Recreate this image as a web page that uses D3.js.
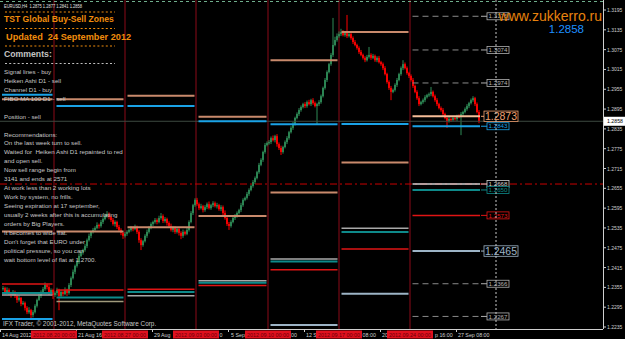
<!DOCTYPE html>
<html>
<head>
<meta charset="utf-8">
<script src="https://cdn.jsdelivr.net/npm/d3@7"></script>
<style>
  html, body { margin: 0; padding: 0; background: #000; overflow: hidden; }
  svg { display: block; }
  text { font-family: "Liberation Sans", Arial, sans-serif; white-space: pre; }
</style>
</head>
<body>
<div id="chart"></div>
<script>
// ---------- data (prices in pips above 1.2000) ----------
const symbolInfo = 'EURUSD,H4  1.2875 1.2877 1.2841 1.2858';
const lastPrice = 858;
const firstOpen = 350;

// H4 closes, one per bar
const closes = [
  // week of 13 Aug
  353,341,347,338,332,341,329,317,323,305,308,293,280,286,271,280,299,317,329,341,350,362,356,341,347,332,
  // 20 Aug
  338,347,329,341,335,347,338,362,383,402,420,432,450,462,468,480,498,511,523,529,535,544,541,553,562,571,577,568,559,547,553,538,529,520,511,
  // 27 Aug
  517,523,529,535,532,538,523,498,483,495,511,523,535,547,553,559,553,565,571,556,562,550,541,529,535,523,532,520,511,523,517,529,553,580,604,620,
  // 3 Sep
  607,595,601,589,598,607,595,604,610,601,604,592,598,580,565,547,541,553,565,571,580,589,604,620,626,638,650,662,674,686,704,726,741,765,786,792,
  // 10 Sep
  795,807,801,813,789,777,765,780,795,807,825,838,850,868,880,892,901,910,904,916,910,922,913,904,910,916,934,959,983,1007,1031,1059,1089,1104,1116,
  // 17 Sep
  1122,1128,1119,1125,1116,1122,1110,1098,1089,1080,1068,1059,1050,1043,1053,1059,1050,1056,1043,1050,1037,1031,1019,1001,977,959,947,953,968,983,1001,1019,1031,1019,1004,995,
  // 24 Sep
  983,965,947,928,910,916,922,931,937,940,947,934,922,910,898,892,880,868,859,865,862,868,865,874,871,880,886,895,904,913,922,928,910,886,858
];
const wickUp = [
  6,4,8,5,3,6,4,5,8,3,6,4,5,9,4,6,5,4,7,5,6,8,4,6,5,4,
  5,7,4,6,5,8,4,6,5,7,4,6,8,5,4,6,5,7,4,6,5,8,4,6,5,7,9,5,4,6,5,4,6,5,4,
  6,5,4,6,5,7,4,5,6,4,5,7,6,5,4,6,5,7,9,5,6,4,5,7,6,5,4,6,5,7,4,6,5,6,4,5,
  6,5,7,4,6,5,8,4,6,5,7,4,6,5,8,4,6,5,4,6,5,4,7,5,4,6,5,4,6,5,4,6,5,4,6,5,
  6,5,8,4,6,5,7,4,5,6,4,5,6,4,5,6,5,4,6,5,7,4,6,5,4,6,5,4,6,5,4,6,82,10,8,
  8,10,6,5,55,6,4,5,6,4,5,6,4,5,6,24,5,6,4,5,6,4,5,6,4,5,6,4,5,6,4,5,12,5,5,4,
  5,6,4,5,6,4,5,6,4,5,15,4,5,6,4,5,6,4,5,6,4,5,6,4,5,6,4,5,6,4,5,6,4,5,6
];
const wickDn = [
  5,7,4,6,8,3,6,9,5,7,4,8,6,5,10,7,4,5,3,6,4,5,7,9,6,12,
  6,8,43,5,7,4,9,5,6,4,7,5,6,4,8,5,6,4,7,5,6,4,8,5,6,4,5,7,6,5,8,6,5,7,9,
  5,6,4,5,7,4,6,8,15,5,4,6,5,4,6,5,7,4,5,6,5,8,6,5,7,6,5,8,10,6,5,4,5,4,6,5,
  5,6,4,7,5,6,4,5,6,4,7,5,6,8,5,6,12,5,4,6,5,4,6,5,4,5,6,4,5,6,4,5,4,6,5,4,
  5,6,4,7,8,6,9,5,4,6,5,4,6,5,4,6,5,4,6,5,4,6,5,4,57,6,5,4,5,6,4,5,6,4,5,
  5,6,4,5,6,4,5,6,4,5,6,4,5,6,4,5,6,4,5,6,4,5,6,4,5,6,25,4,5,6,4,5,6,4,5,6,
  5,6,4,5,6,4,5,6,4,5,6,4,5,6,4,5,6,4,21,5,6,4,5,6,4,55,6,4,5,6,4,5,6,4,6
];

// weekly separators (bar index) and their time labels
const weekEdges = [-1.5, 25.5, 61, 96.5, 132.5, 168, 203.5, 239];
const separatorLabels = ['2012.08.20 00:00','2012.08.27 00:00','2012.09.03 00:00','2012.09.10 00:00','2012.09.17 00:00','2012.09.24 00:00'];

// buy/sell zone levels per week: [pips above 1.2000, kind]
const zonesByWeek = [
  [[938,'sup'],[925,'res'],[524,'mid'],[365,'red'],[338,'teal'],[332,'gray'],[259,'sup']],
  [[925,'res'],[904,'sup'],[524,'mid'],[347,'red'],[324,'teal'],[312,'khaki']],
  [[935,'res'],[904,'sup'],[537,'mid'],[349,'red'],[341,'teal'],[330,'gray']],
  [[872,'res'],[858,'sup'],[571,'mid'],[375,'gray'],[369,'teal'],[361,'red']],
  [[1043,'res'],[849,'sup'],[642,'mid'],[441,'gray'],[433,'teal'],[408,'red'],[241,'steel']],
  [[1128,'res'],[850,'sup'],[733,'mid'],[534,'gray'],[523,'teal'],[471,'red'],[336,'steel']],
  [[1176,'dash'],[1074,'dash'],[974,'dash'],[873,'res'],[843,'sup'],[668,'white'],[650,'teal'],[573,'red'],[465,'steel'],[366,'dash'],[267,'dash']]
];
const pivotLevel = 668;

const priceTicks = [1.3195,1.3135,1.3075,1.3015,1.2955,1.2895,1.2835,1.2775,1.2715,1.2655,1.2595,1.2535,1.2475,1.2415,1.2355,1.2295,1.2235];
// time axis: ticks, and the label pieces left visible between the separator boxes
const timeTickBars = [-0.5, 37.5, 75.5, 113.5, 151.5, 189.5, 227.5];
const timeLabelBars = [-0.5, 37.5, 75.5, 108.3, 114, 144, 151.5, 179.8, 189.5, 216, 227.5];
const timeLabels = ['14 Aug 2012','21 Aug 16','29 Aug','0','5 Sep','00','12 S','08:00','20','p 16:00','27 Sep 08:00'];

const titleText = 'TST Global Buy-Sell Zones';
const updatedText = 'Updated  24 September 2012';
const commentsHead = 'Comments:';
const comments = [
  'Signal lines - buy','Heiken Ashi D1 - sell','Channel D1 - buy','FIBO MA 100 D1 - sell','',
  'Position - sell','',
  'Recommendations:','On the last week turn to sell.','Waited for  Heiken Ashi D1 repainted to red',
  'and open sell.','Now sell range begin from','3141 and ends at 2571','At work less than 2 working lots',
  'Work by system, no frills.','Seeing expiration at 17 september,','usually 2 weeks after this is accumulating',
  'orders by Big Players.','It becomes to wide flat.','Don\'t forget that EURO under',
  'political pressure, so you can','wait bottom level of flat at 1.2700.'
];
const siteText = 'www.zukkerro.ru';
const copyright = 'IFX Trader, \u00a9 2001-2012, MetaQuotes Software Corp.';

// ---------- drawing ----------
const W = 625, H = 339;
const plotRight = 603, plotBottom = 329;
const toPrice = v => 1.2 + v / 10000;

const x = d3.scaleLinear().domain([0, closes.length - 1]).range([3, 479]);
const y = d3.scaleLinear().domain([1.2235, 1.3195]).range([327, 10]);

const svg = d3.select('#chart').append('svg').attr('width', W).attr('height', H);
svg.append('rect').attr('width', W).attr('height', H).attr('fill', '#000');

// week separators
svg.append('g').selectAll('line').data(weekEdges.slice(1, -1)).join('line')
  .attr('x1', d => x(d)).attr('x2', d => x(d)).attr('y1', 0).attr('y2', plotBottom)
  .attr('stroke', '#8c0a18').attr('stroke-width', 1);

// candles
const candles = closes.map((c, i) => {
  const o = i === 0 ? firstOpen : closes[i - 1];
  return { i, o, c, h: Math.max(o, c) + wickUp[i], l: Math.min(o, c) - wickDn[i] };
});
const cg = svg.append('g');
const col = d => d.c >= d.o ? '#2e8b57' : '#ff0000';
cg.selectAll('line').data(candles).join('line')
  .attr('x1', d => x(d.i)).attr('x2', d => x(d.i))
  .attr('y1', d => y(toPrice(d.h))).attr('y2', d => y(toPrice(d.l)))
  .attr('stroke', col).attr('stroke-width', 1);
cg.selectAll('rect').data(candles).join('rect')
  .attr('x', d => x(d.i) - 0.9).attr('width', 1.8)
  .attr('y', d => y(toPrice(Math.max(d.o, d.c))))
  .attr('height', d => Math.max(1.2, Math.abs(y(toPrice(d.o)) - y(toPrice(d.c)))))
  .attr('fill', col);

// zone segments
const zoneStyle = {
  res:   { c: '#c98a6c', w: 2 },
  sup:   { c: '#1aa2e6', w: 2 },
  mid:   { c: '#c98a6c', w: 2 },
  red:   { c: '#e01414', w: 1.5 },
  teal:  { c: '#0e8a8a', w: 2 },
  gray:  { c: '#a8a8a8', w: 1.5 },
  khaki: { c: '#a09a7c', w: 1.5 },
  white: { c: '#d0d0d0', w: 1.5 },
  steel: { c: '#9db4c6', w: 2 },
  dash:  { c: '#8a8a8a', w: 1, dash: '6,4' }
};
const lastWeek = zonesByWeek.length - 1;
const segs = [];
zonesByWeek.forEach((list, k) => {
  const x1 = k === 0 ? x(weekEdges[0]) + 2 : x(weekEdges[k]) + 2.5;
  const x2 = k === lastWeek ? x(weekEdges[k + 1]) - 1 : x(weekEdges[k + 1]) - 1.5;
  list.forEach(([v, kind]) => segs.push({ v, kind, x1, x2, k }));
});

// pivot dash-dot line and bid line
svg.append('line').attr('x1', 0).attr('x2', plotRight)
  .attr('y1', y(toPrice(pivotLevel))).attr('y2', y(toPrice(pivotLevel)))
  .attr('stroke', '#c80000').attr('stroke-width', 1).attr('stroke-dasharray', '7,3,2,3');
svg.append('line').attr('x1', 0).attr('x2', plotRight)
  .attr('y1', y(toPrice(lastPrice))).attr('y2', y(toPrice(lastPrice)))
  .attr('stroke', '#3c4a40').attr('stroke-width', 1);

svg.append('g').selectAll('line').data(segs).join('line')
  .attr('x1', d => d.x1).attr('x2', d => d.x2)
  .attr('y1', d => y(toPrice(d.v))).attr('y2', d => y(toPrice(d.v)))
  .attr('stroke', d => (d.k === lastWeek && d.kind === 'res') ? '#f5bc98' : zoneStyle[d.kind].c)
  .attr('stroke-width', d => zoneStyle[d.kind].w)
  .attr('stroke-dasharray', d => zoneStyle[d.kind].dash || null);

// top dotted border line
svg.append('line').attr('x1', 0).attr('x2', plotRight).attr('y1', 1.5).attr('y2', 1.5)
  .attr('stroke', '#6fae8c').attr('stroke-width', 1).attr('stroke-dasharray', '3,3');

// level labels for the current week
const lg = svg.append('g');
segs.filter(d => d.k === lastWeek).forEach(d => {
  const big = d.kind === 'res' || d.kind === 'steel';
  const st = zoneStyle[d.kind];
  const c = d.kind === 'res' ? '#f0a070' : (d.kind === 'dash' ? '#b0b0b0' : st.c);
  const yy = y(toPrice(d.v));
  const bx = big ? 484 : 487, bw = big ? 34 : 22, bh = big ? 10.5 : 7;
  lg.append('line').attr('x1', 481).attr('x2', bx).attr('y1', yy).attr('y2', yy)
    .attr('stroke', c).attr('stroke-width', 1);
  lg.append('rect').attr('x', bx).attr('y', yy - bh / 2).attr('width', bw).attr('height', bh)
    .attr('fill', '#000').attr('stroke', c).attr('stroke-width', 0.8);
  lg.append('text').attr('x', bx + bw / 2).attr('y', yy + (big ? 3.6 : 2.2))
    .attr('text-anchor', 'middle').attr('font-size', big ? 10.5 : 6.2)
    .attr('fill', c).text(toPrice(d.v).toFixed(4));
});

// white dotted time line
svg.append('line').attr('x1', 496).attr('x2', 496).attr('y1', 0).attr('y2', plotBottom)
  .attr('stroke', '#c8c8c8').attr('stroke-width', 1).attr('stroke-dasharray', '2,2');

// frame
svg.append('line').attr('x1', plotRight + 0.5).attr('x2', plotRight + 0.5).attr('y1', 0).attr('y2', plotBottom)
  .attr('stroke', '#cfcfcf');
svg.append('line').attr('x1', 0).attr('x2', plotRight).attr('y1', plotBottom + 0.5).attr('y2', plotBottom + 0.5)
  .attr('stroke', '#cfcfcf');

// price axis
const pa = svg.append('g');
pa.selectAll('line').data(priceTicks).join('line')
  .attr('x1', plotRight).attr('x2', plotRight + 3)
  .attr('y1', d => y(d)).attr('y2', d => y(d)).attr('stroke', '#cfcfcf');
pa.selectAll('text').data(priceTicks).join('text')
  .attr('transform', d => `translate(607,${y(d) + 2}) scale(0.9,1)`)
  .attr('font-size', 5.6).attr('fill', '#cfcfcf').text(d => d.toFixed(4));
const yb = y(toPrice(lastPrice));
pa.append('rect').attr('x', 604).attr('y', yb - 4.5).attr('width', 21).attr('height', 9).attr('fill', '#fff');
pa.append('text').attr('transform', `translate(607,${yb + 2.2}) scale(0.9,1)`)
  .attr('font-size', 5.8).attr('fill', '#000').text(toPrice(lastPrice).toFixed(4));

// time axis
const ta = svg.append('g');
ta.selectAll('line').data(timeTickBars).join('line')
  .attr('x1', d => x(d) - 1.5).attr('x2', d => x(d) - 1.5).attr('y1', plotBottom).attr('y2', plotBottom + 3)
  .attr('stroke', '#cfcfcf');
ta.selectAll('text').data(timeLabelBars).join('text')
  .attr('x', d => x(d)).attr('y', 336.5)
  .attr('font-size', 5.3).attr('fill', '#d0d0d0').text((d, i) => timeLabels[i]);
const sepBars = weekEdges.slice(1, -1);
ta.selectAll('rect').data(sepBars).join('rect')
  .attr('x', d => x(d) - 23).attr('y', 330.5).attr('width', 46).attr('height', 8)
  .attr('fill', '#e0101e');
ta.selectAll('text.sep').data(sepBars).join('text').attr('class', 'sep')
  .attr('x', d => x(d)).attr('y', 336.6).attr('text-anchor', 'middle')
  .attr('font-size', 5.4).attr('fill', '#6a0008').text((d, i) => separatorLabels[i]);

// comment block
const tg = svg.append('g');
tg.append('text').attr('transform', 'translate(4,8) scale(0.72,1)')
  .attr('font-size', 5.6).attr('fill', '#e0e0e0').text(symbolInfo);
const orange = '#f08c0c';
[12, 28.5, 46].forEach(yy => tg.append('line').attr('x1', 5).attr('x2', 115)
  .attr('y1', yy).attr('y2', yy).attr('stroke', orange).attr('stroke-width', 1.2).attr('stroke-dasharray', '2,2.2'));
tg.append('line').attr('x1', 5).attr('x2', 115).attr('y1', 63.5).attr('y2', 63.5)
  .attr('stroke', '#bdbdbd').attr('stroke-width', 1.2).attr('stroke-dasharray', '2,2.2');
tg.append('text').attr('x', 4).attr('y', 22).attr('font-size', 8.6).attr('font-weight', 'bold')
  .attr('fill', orange).text(titleText);
tg.append('text').attr('x', 6).attr('y', 39.5).attr('font-size', 9.2).attr('font-weight', 'bold')
  .attr('fill', orange).text(updatedText);
tg.append('text').attr('x', 4).attr('y', 57).attr('font-size', 8.7).attr('font-weight', 'bold')
  .attr('fill', '#c4c4c4').text(commentsHead);
tg.selectAll('text.cm').data(comments).join('text').attr('class', 'cm')
  .attr('x', 4).attr('y', (d, i) => 74 + i * 8.93)
  .attr('font-size', 6.2).attr('fill', '#c8c8c8').text(d => d);
tg.append('text').attr('x', 3).attr('y', 325.5).attr('font-size', 6.4)
  .attr('fill', '#c8c8c8').text(copyright);

// site + price top right
svg.append('text').attr('x', 602).attr('y', 20.5).attr('text-anchor', 'end')
  .attr('font-family', '"Liberation Serif", "Times New Roman", serif')
  .attr('font-size', 14).attr('fill', '#e8830e').text(siteText);
svg.append('text').attr('x', 584).attr('y', 32.5).attr('text-anchor', 'end')
  .attr('font-size', 11.5).attr('fill', '#1e90ff').text(toPrice(lastPrice).toFixed(4));
</script>
</body>
</html>
